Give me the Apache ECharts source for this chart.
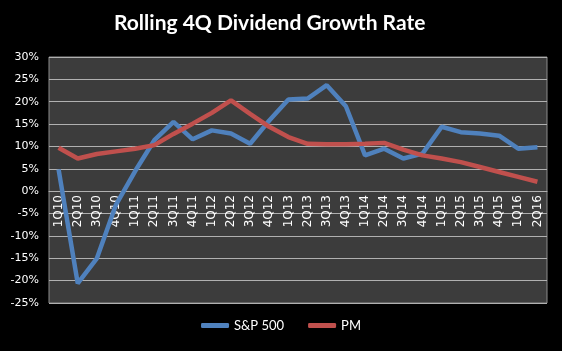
<!DOCTYPE html>
<html>
<head>
<meta charset="utf-8">
<script src="https://cdn.jsdelivr.net/npm/echarts@6/dist/echarts.min.js"></script>
<style>
  html, body { margin: 0; padding: 0; background: #000; }
  #chart { width: 562px; height: 351px; }
</style>
</head>
<body>
<div id="chart"></div>
<script>
const quarters = [
  "1Q10", "2Q10", "3Q10", "4Q10", "1Q11", "2Q11", "3Q11", "4Q11",
  "1Q12", "2Q12", "3Q12", "4Q12", "1Q13", "2Q13", "3Q13", "4Q13",
  "1Q14", "2Q14", "3Q14", "4Q14", "1Q15", "2Q15", "3Q15", "4Q15",
  "1Q16", "2Q16"
];
const sp500 = [
  4.9, -20.6, -15.0, -3.0, 4.5, 11.4, 15.5, 11.6,
  13.6, 12.9, 10.6, 15.8, 20.5, 20.7, 23.7, 19.0,
  8.0, 9.5, 7.3, 8.4, 14.4, 13.2, 12.9, 12.4,
  9.5, 9.8
];
const pm = [
  9.7, 7.3, 8.3, 8.9, 9.5, 10.3, 12.8, 15.1,
  17.5, 20.3, 17.3, 14.4, 12.1, 10.6, 10.5, 10.5,
  10.6, 10.8, 9.3, 8.0, 7.3, 6.5, 5.4, 4.3,
  3.2, 2.1
];

const yMin = -25, yMax = 30;
const gridTop = 57, gridBottom = 48, chartH = 351;
// move the category labels up to the 0% line
const plotH = chartH - gridTop - gridBottom;
const zeroOffset = -Math.round(plotH * (0 - yMin) / (yMax - yMin));

const chart = echarts.init(document.getElementById("chart"));
chart.setOption({
  backgroundColor: "#000",
  animation: false,
  title: {
    text: "Rolling 4Q Dividend Growth Rate",
    left: 109,
    top: 8,
    textStyle: {
      color: "#fff",
      fontFamily: "Lato",
      fontWeight: "bold",
      fontSize: 21
    }
  },
  legend: {
    data: ["S&P 500", "PM"],
    bottom: 14,
    left: "center",
    icon: "roundRect",
    itemWidth: 28,
    itemHeight: 5,
    itemGap: 24,
    textStyle: { color: "#fff", fontFamily: "Lato", fontSize: 13 }
  },
  grid: {
    left: 49,
    right: 15,
    top: gridTop,
    bottom: gridBottom,
    show: true,
    backgroundColor: "#3c3c3c",
    borderColor: "#8c8c8c",
    borderWidth: 1
  },
  xAxis: {
    type: "category",
    data: quarters,
    boundaryGap: true,
    offset: zeroOffset,
    axisLine: { onZero: false, lineStyle: { color: "#b0b0b0" } },
    axisTick: { show: false },
    axisLabel: {
      color: "#fff",
      rotate: 90,
      interval: 0,
      fontFamily: "DejaVu Sans",
      fontSize: 12,
      margin: 4
    }
  },
  yAxis: {
    type: "value",
    min: yMin,
    max: yMax,
    interval: 5,
    axisLabel: {
      color: "#fff",
      fontFamily: "DejaVu Sans",
      fontSize: 11,
      margin: 10,
      formatter: v => v + "%"
    },
    splitLine: { lineStyle: { color: "#b0b0b0", width: 1 } }
  },
  series: [
    {
      name: "S&P 500",
      type: "line",
      data: sp500,
      showSymbol: false,
      symbol: "none",
      color: "#4f81bd",
      lineStyle: { width: 4.5 }
    },
    {
      name: "PM",
      type: "line",
      data: pm,
      showSymbol: false,
      symbol: "none",
      color: "#c0504d",
      lineStyle: { width: 4.5 }
    }
  ]
});
</script>
</body>
</html>
